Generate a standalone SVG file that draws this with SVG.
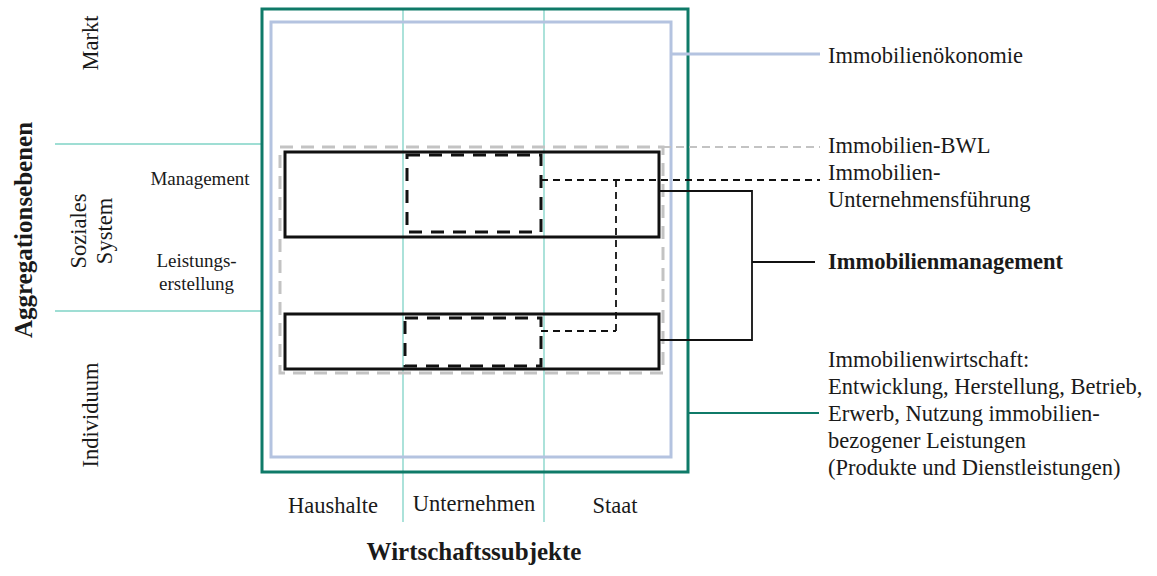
<svg xmlns="http://www.w3.org/2000/svg" width="1157" height="576" viewBox="0 0 1157 576">
  <style>
    .t { font-family: "Liberation Serif", "Times New Roman", serif; fill: #1a1a1a; }
    .r { font-size: 22.5px; }
    .s { font-size: 19px; }
    .b { font-size: 25px; font-weight: bold; }
    .grid { stroke: #7fd3c6; stroke-width: 1.3; fill: none; }
    .outer { stroke: #0f7a68; stroke-width: 3; fill: none; }
    .eco { stroke: #b4c3e0; stroke-width: 3; fill: none; }
    .bwl { stroke: #c3c3c3; stroke-width: 3; fill: none; stroke-dasharray: 13 8; }
    .solid { stroke: #111; stroke-width: 3; fill: none; }
    .dash { stroke: #111; stroke-width: 3; fill: none; stroke-dasharray: 13 9; }
    .link { stroke: #111; stroke-width: 1.8; fill: none; }
    .dlink { stroke: #111; stroke-width: 1.8; fill: none; stroke-dasharray: 7 5; }
  </style>

  <!-- grid lines of the matrix -->
  <g id="grid">
    <line class="grid" x1="403" y1="9" x2="403" y2="522"/>
    <line class="grid" x1="544" y1="9" x2="544" y2="522"/>
    <line class="grid" x1="55" y1="144" x2="262" y2="144"/>
    <line class="grid" x1="55" y1="311" x2="262" y2="311"/>
  </g>

  <g id="immobilienwirtschaft">
    <rect class="outer" x="262" y="9" width="426" height="463"/>
  </g>
  <g id="immobilienoekonomie">
    <rect class="eco" x="271" y="22" width="400" height="435"/>
  </g>
  <g id="immobilien-bwl">
    <rect class="bwl" x="280" y="147" width="383" height="226"/>
  </g>
  <g id="management-ebene">
    <rect class="solid" x="285" y="152" width="374" height="85"/>
  </g>
  <g id="leistungsebene">
    <rect class="solid" x="285" y="314" width="374" height="55"/>
  </g>
  <g id="unternehmensfuehrung-oben">
    <rect class="dash" x="407" y="155" width="134" height="77"/>
  </g>
  <g id="unternehmensfuehrung-unten">
    <rect class="dash" x="405" y="318" width="136" height="48"/>
  </g>

  <!-- connectors to the labels on the right -->
  <g id="connectors">
    <line class="eco" x1="671" y1="54" x2="820" y2="54" stroke-width="2"/>
    <line x1="663" y1="147" x2="820" y2="147" stroke="#c3c3c3" stroke-width="2" stroke-dasharray="8 5"/>
    <path class="dlink" d="M541 180 H820"/>
    <path class="dlink" d="M616 180 V334"/>
    <path class="dlink" d="M541 331 H616"/>
    <path class="link" d="M659 191 H752 V340 H659"/>
    <path class="link" d="M752 262 H815"/>
    <line x1="688" y1="413" x2="819" y2="413" stroke="#0f7a68" stroke-width="2"/>
  </g>

  <!-- axis labels -->
  <g id="axis-left">
    <text class="t b" transform="translate(32,230) rotate(-90)" text-anchor="middle">Aggregationsebenen</text>
    <text class="t r" transform="translate(98,43) rotate(-90)" text-anchor="middle">Markt</text>
    <text class="t r" transform="translate(86,231) rotate(-90)" text-anchor="middle">Soziales</text>
    <text class="t r" transform="translate(112,231) rotate(-90)" text-anchor="middle">System</text>
    <text class="t r" transform="translate(98,415) rotate(-90)" text-anchor="middle">Individuum</text>
    <text class="t s" x="200" y="185" text-anchor="middle">Management</text>
    <text class="t s" x="196.5" y="267" text-anchor="middle">Leistungs-</text>
    <text class="t s" x="196.5" y="290" text-anchor="middle">erstellung</text>
  </g>

  <g id="axis-bottom">
    <text class="t r" x="333" y="513" text-anchor="middle">Haushalte</text>
    <text class="t r" x="474" y="511" text-anchor="middle">Unternehmen</text>
    <text class="t r" x="615" y="513" text-anchor="middle">Staat</text>
    <text class="t b" x="474" y="560" text-anchor="middle">Wirtschaftssubjekte</text>
  </g>

  <!-- right-hand legend -->
  <g id="legend">
    <text class="t r" x="828" y="63">Immobilienökonomie</text>
    <text class="t r" x="828" y="153">Immobilien-BWL</text>
    <text class="t r" x="828" y="180">Immobilien-</text>
    <text class="t r" x="828" y="207">Unternehmensführung</text>
    <text class="t b" x="828" y="269" style="font-size:22.5px">Immobilienmanagement</text>
    <text class="t r" x="828" y="367">Immobilienwirtschaft:</text>
    <text class="t r" x="828" y="394">Entwicklung, Herstellung, Betrieb,</text>
    <text class="t r" x="828" y="421">Erwerb, Nutzung immobilien-</text>
    <text class="t r" x="828" y="448">bezogener Leistungen</text>
    <text class="t r" x="828" y="475">(Produkte und Dienstleistungen)</text>
  </g>
</svg>
